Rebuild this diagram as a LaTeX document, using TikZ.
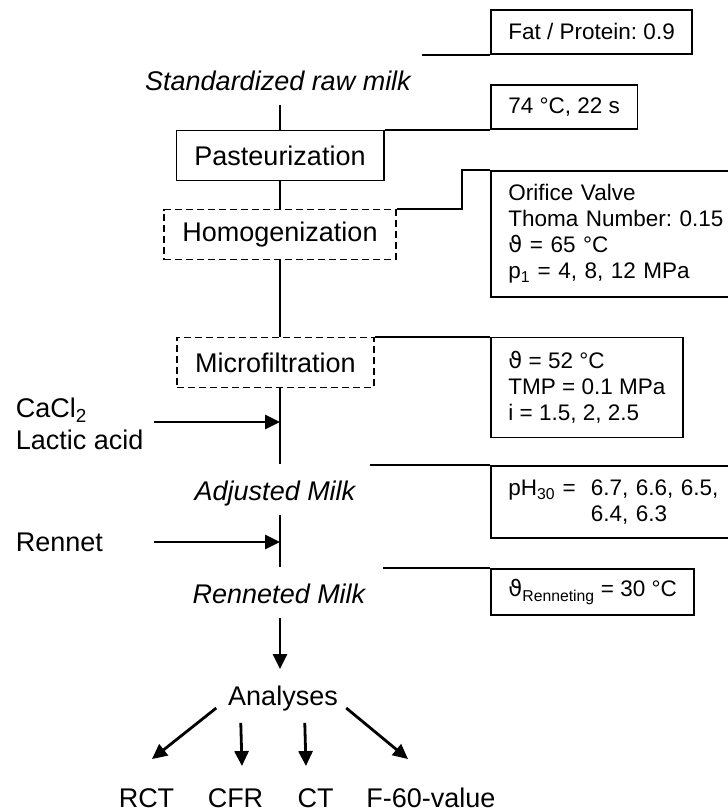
\documentclass[tikz,border=0pt]{standalone}
\usepackage{fontspec}
\setmainfont{Liberation Sans}
\newfontfamily\thetafont{DejaVu Sans}
\usetikzlibrary{arrows.meta,calc}
\newcommand\bigsize{\fontsize{27}{32}\selectfont}
\newcommand\smallsize{\fontsize{22.5}{26}\selectfont}
\newcommand\vth{{\thetafont ϑ}}
\frenchspacing

\begin{document}
\begin{tikzpicture}[x=1pt,y=-1pt,line width=1.9pt,
  stage/.style={draw,font=\bigsize,inner xsep=18pt,minimum height=50pt},
  optstage/.style={stage,dash pattern=on 7pt off 4pt},
  lbl/.style={font=\bigsize,inner xsep=0pt,inner ysep=8pt,text height=20pt,text depth=6pt},
  param/.style={draw,font=\smallsize,anchor=north west,inner xsep=17.5pt,align=left},
  arr/.style={line width=2.8pt,-{Triangle[length=15pt,width=14pt]}}]
\useasboundingbox (0,0) rectangle (728,812);
\clip (0,0) rectangle (728,812);

\node[lbl,font=\bigsize\itshape] (raw) at (278,83) {Standardized raw milk};
\node[stage] (past) at (280,155.5) {Pasteurization};
\node[optstage] (homog) at (280,234.5) {Homogenization};
\node[optstage] (micro) at (275.5,362.5) {Microfiltration};
\node[lbl,font=\bigsize\itshape] (adj) at (275,493) {Adjusted Milk};
\node[lbl,font=\bigsize\itshape] (renn) at (279,596) {Renneted Milk};
\node[lbl] (an) at (283,698) {Analyses};
\node[lbl] (rct) at (146.5,800) {RCT};
\node[lbl] (cfr) at (235.5,800) {CFR};
\node[lbl] (ct) at (315.5,800) {CT};
\node[lbl] (f60) at (431,800) {F-60-value};

\node[font=\bigsize,align=left,anchor=west,inner sep=0pt] (cacl) at (15,424) {CaCl\textsubscript{2}\\Lactic acid};
\node[font=\bigsize,anchor=west,inner sep=0pt] (rennet) at (15,542) {Rennet};

\node[param,minimum height=44pt] (fat) at (490,9) {Fat / Protein: 0.9};
\node[param,minimum height=44pt,anchor=south west] (temp) at (past.north east -| fat.west) {74 °C, 22 s};
\node[param,text width=240pt,minimum height=126pt] (orif) at (490,170) {Orifice Valve\\Thoma Number: 0.15\\\vth{} = 65 °C\\p\textsubscript{1} = 4, 8, 12 MPa};
\node[param,minimum height=100pt] (mf) at (micro.north east -| fat.west) {\vth{} = 52 °C\\TMP = 0.1 MPa\\i = 1.5, 2, 2.5};
\node[param,text width=240pt,minimum height=72pt] (ph) at (490,465) {pH\textsubscript{30} =\ \ 6.7, 6.6, 6.5,\\\hphantom{pH\textsubscript{30} =\ \ }6.4, 6.3};
\node[param,minimum height=46pt] (rent) at (490,568) {\vth\textsubscript{Renneting} = 30 °C};

\coordinate (fatend) at ($(fat.south west)+(-68,0)$);
\coordinate (phend) at ($(ph.north west)+(-120,0)$);
\coordinate (rentend) at ($(rent.north west)+(-107,0)$);
\coordinate (mix1) at (280,422);
\coordinate (mix2) at (280,542);

\draw (fatend) -- (fat.south west);
\draw (past.north |- raw.south) -- (past.north);
\draw (past.north east) -- (temp.south west);
\draw (past) -- (homog);
\draw (homog.north east) -| ($(orif.north west)+(-28,0)$) -- (orif.north west);
\draw (homog.south) -- (homog.south |- micro.north);
\draw (micro.north east) -- (mf.north west);
\draw[shorten >=7pt] (mix1 |- micro.south) -- (mix1 |- adj.north);
\draw[arr] ($(mix1 -| cacl.east)+(10,0)$) -- (mix1);
\draw (phend) -- (ph.north west);
\draw[shorten >=7pt] (mix2 |- adj.south) -- (mix2 |- renn.north);
\draw[arr] ($(mix2 -| rennet.east)+(50,0)$) -- (mix2);
\draw (rentend) -- (rent.north west);
\draw[arr,shorten >=7pt] (mix2 |- renn.south) -- (mix2 |- an.north);
\draw[arr] ($(an.west)+(-11,10)$) -- ($(rct.north)+(5.5,-19)$);
\draw[arr] ($(an.south west)+(13.5,3)$) -- ($(cfr.north)+(6.5,-12)$);
\draw[arr] ($(an.south west)+(77.5,3)$) -- ($(ct.north)+(-9.5,-12)$);
\draw[arr] ($(an.east)+(7.5,10)$) -- ($(f60.north)+(-23,-19)$);
\end{tikzpicture}
\end{document}
